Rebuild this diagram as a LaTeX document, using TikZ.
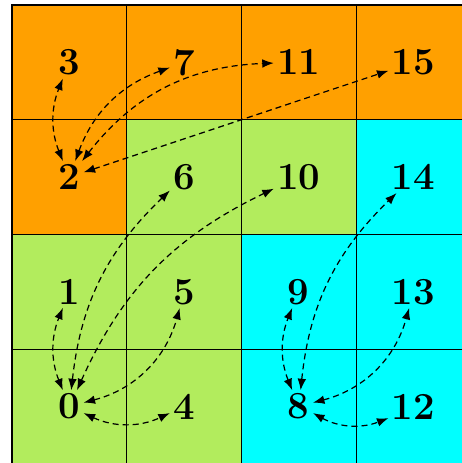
\documentclass[tikz,border=0pt]{standalone}
\usepackage{xcolor}
\usepackage{tikz}
\usetikzlibrary{arrows.meta}

\definecolor{blockorange}{RGB}{255,160,0}
\definecolor{blockgreen}{RGB}{178,236,93}
\definecolor{blockcyan}{RGB}{0,255,255}

\tikzset{
  cell/.style={draw=black, semithick},
  idx/.style={font=\fontsize{19pt}{23pt}\selectfont\bfseries, inner sep=1.5pt},
  link/.style={{Latex}-{Latex}, semithick, dash pattern=on 3pt off 2pt}
}

\begin{document}
\begin{tikzpicture}[x=2cm, y=2cm]
  \useasboundingbox (-0.105,0.007) rectangle (3.915,4.044);

  % blocks, numbered column by column from the bottom
  \foreach \i/\c in {0/blockgreen, 1/blockgreen, 2/blockorange, 3/blockorange,
                     4/blockgreen, 5/blockgreen, 6/blockgreen, 7/blockorange,
                     8/blockcyan, 9/blockcyan, 10/blockgreen, 11/blockorange,
                     12/blockcyan, 13/blockcyan, 14/blockcyan, 15/blockorange} {
    \pgfmathtruncatemacro\col{\i/4}
    \pgfmathtruncatemacro\row{mod(\i,4)}
    \draw[cell, fill=\c] (\col,\row) rectangle ++(1,1);
    \node[idx] (n\i) at (\col+0.5,\row+0.5) {\i};
  }

  % neighbour links
  \draw[link] (n2) to[bend left=22] (n3);
  \draw[link] (n2) to[bend left=25] (n7);
  \draw[link] (n2) to[bend left=25] (n11);
  \draw[link] (n2) to (n15);

  \draw[link] (n0) to[bend left=22] (n1);
  \draw[link] (n0) to[bend left=20] (n6);
  \draw[link] (n0) to[bend left=20] (n10);
  \draw[link] (n0) to[bend right=30] (n5);
  \draw[link] (n0) to[bend right=25] (n4);

  \draw[link] (n8) to[bend left=22] (n9);
  \draw[link] (n8) to[bend left=20] (n14);
  \draw[link] (n8) to[bend right=30] (n13);
  \draw[link] (n8) to[bend right=25] (n12);
\end{tikzpicture}
\end{document}
